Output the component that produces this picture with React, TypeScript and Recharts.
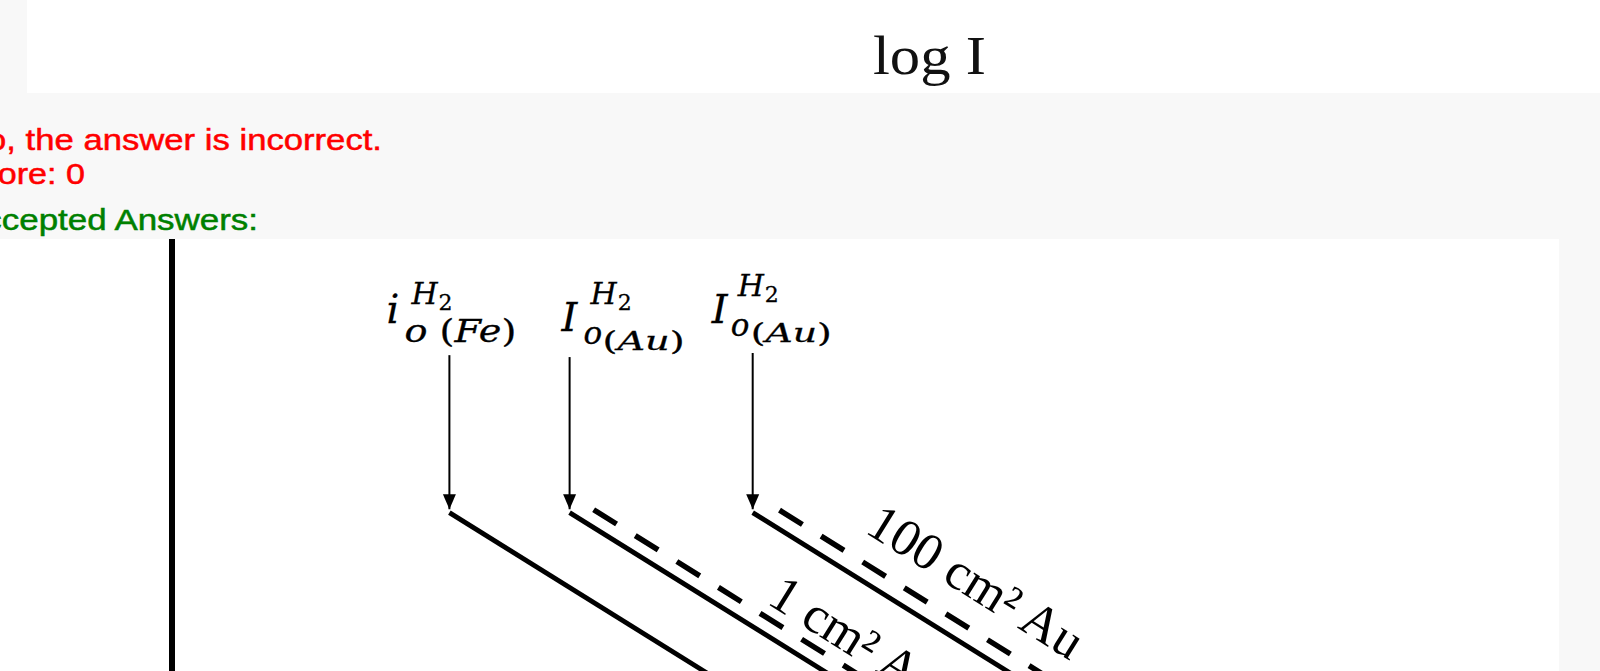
import { LineChart, Line, XAxis, YAxis, ReferenceDot } from "recharts";

// Tafel lines for H2 evolution, log I (decades) vs E (V)
const feLine = [
  { logI: -7.0, E: -0.57 },
  { logI: -4.0, E: -0.93 },
];
const au1Line = [
  { logI: -5.7, E: -0.57 },
  { logI: -2.7, E: -0.93 },
];
const au100Line = [
  { logI: -3.72, E: -0.57 },
  { logI: -0.72, E: -0.93 },
];
const au1Dashed = [
  { logI: -5.44, E: -0.564 },
  { logI: -2.44, E: -0.924 },
];
const au100Dashed = [
  { logI: -3.43, E: -0.565 },
  { logI: -0.43, E: -0.925 },
];

// exchange current markers
const ioLogI = [-7.0, -5.7, -3.72];
const ioArrowTop = [-0.242, -0.246, -0.2375];
const ioArrowTip = -0.563;
const ioMain = ["i", "I", "I"];
const ioSub = ["o (Fe)", "o", "o"];
const ioSubSub = ["", "(Au)", "(Au)"];

// area labels along the dashed lines
const areaText = ["1 cm² Au", "100 cm² Au"];
const areaLogI = [-3.58, -2.52];
const areaE = [-0.758, -0.61];

// label offsets from the top of each arrow (px)
const ioLabelPos = [
  { main: [-63, -32], sup: [-38, -51], sub: [-45, -13], subW: 112 },
  { main: [-8, -26], sup: [21, -53], sub: [14, -13], subSub: [33, -7], subSubW: 82 },
  { main: [-41, -30], sup: [-15, -57], sub: [-22, -17], subSub: [-2, -11], subSubW: 81 },
];

const MATH_FONT = "'DejaVu Serif', serif";

// letters italic, brackets/digits upright, like a math font
const mathSpans = (s: string) =>
  s.split("").map((ch, k) => (
    <tspan key={k} fontStyle={/[A-Za-z]/.test(ch) ? "italic" : "normal"}>
      {ch}
    </tspan>
  ));

const renderIoLabel = (cx: number, cy: number, i: number) => {
  const p: any = ioLabelPos[i];
  return (
    <g key={`io-label-${i}`} fontFamily={MATH_FONT} fill="#000" stroke="#000" strokeWidth={0.3}>
      <text x={cx + p.main[0]} y={cy + p.main[1]} fontSize={40} fontStyle="italic">
        {ioMain[i]}
      </text>
      <text x={cx + p.sup[0]} y={cy + p.sup[1]} fontSize={30}>
        <tspan fontStyle="italic">H</tspan>
        <tspan fontSize={22} dx={1} dy={6}>
          2
        </tspan>
      </text>
      <text
        x={cx + p.sub[0]}
        y={cy + p.sub[1]}
        fontSize={31}
        {...(p.subW ? { textLength: p.subW, lengthAdjust: "spacingAndGlyphs" } : {})}
      >
        {mathSpans(ioSub[i])}
      </text>
      {ioSubSub[i] && (
        <text
          x={cx + p.subSub[0]}
          y={cy + p.subSub[1]}
          fontSize={26}
          textLength={p.subSubW}
          lengthAdjust="spacingAndGlyphs"
        >
          {mathSpans(ioSubSub[i])}
        </text>
      )}
    </g>
  );
};

const arrowDot = (i: number) => (props: any) => {
  const { cx, cy, index } = props;
  if (index === 0) return renderIoLabel(cx, cy, i);
  return (
    <polygon
      key={`tip-${i}`}
      points={`${cx - 6.5},${cy - 15} ${cx + 6.5},${cy - 15} ${cx},${cy}`}
      fill="#000"
    />
  );
};

const areaLabel = (i: number) => (props: any) => {
  const { cx, cy } = props;
  return (
    <text
      x={cx}
      y={cy}
      transform={`rotate(32 ${cx} ${cy})`}
      fontFamily="'Liberation Serif', serif"
      fontSize={52}
      fill="#000"
    >
      {areaText[i]}
    </text>
  );
};

const solidLines = [feLine, au1Line, au100Line];
const dashedLines = [au1Dashed, au100Dashed];

export default function App() {
  return (
    <div
      style={{
        position: "fixed",
        left: 0,
        top: 0,
        width: 1600,
        height: 671,
        overflow: "hidden",
        background: "#f8f8f8",
      }}
    >
      <svg width={1600} height={239} style={{ position: "absolute", left: 0, top: 0 }}>
        <rect x={27} y={0} width={1573} height={93} fill="#fff" />
        <text
          x={873}
          y={74}
          fontFamily="'Liberation Serif', serif"
          fontSize={54}
          textLength={113}
          lengthAdjust="spacingAndGlyphs"
          fill="#111"
        >
          log I
        </text>
        <g fontFamily="'Liberation Sans', Arial, sans-serif" fontSize={30} strokeWidth={0.5}>
          <text x={-38} y={150} fill="#ff0000" stroke="#ff0000" textLength={420} lengthAdjust="spacingAndGlyphs">
            No, the answer is incorrect.
          </text>
          <text x={-42} y={184} fill="#ff0000" stroke="#ff0000" textLength={127} lengthAdjust="spacingAndGlyphs">
            Score: 0
          </text>
          <text x={-39} y={230} fill="#008000" stroke="#008000" textLength={297} lengthAdjust="spacingAndGlyphs">
            Accepted Answers:
          </text>
        </g>
      </svg>
      <div
        style={{
          position: "absolute",
          left: 0,
          top: 239,
          width: 1559,
          height: 432,
          background: "#fff",
        }}
      >
        <LineChart width={1559} height={432} margin={{ top: 0, right: 0, bottom: 0, left: 0 }}>
          <XAxis type="number" dataKey="logI" domain={[-10, 5]} allowDataOverflow hide />
          <YAxis
            type="number"
            domain={[-0.9, 0]}
            allowDataOverflow
            width={172}
            tick={false}
            tickLine={false}
            axisLine={{ stroke: "#000", strokeWidth: 6 }}
          />
          {solidLines.map((d, i) => (
            <Line
              key={`solid-${i}`}
              data={d}
              dataKey="E"
              stroke="#000"
              strokeWidth={4.8}
              dot={false}
              activeDot={false}
              isAnimationActive={false}
            />
          ))}
          {dashedLines.map((d, i) => (
            <Line
              key={`dash-${i}`}
              data={d}
              dataKey="E"
              stroke="#000"
              strokeWidth={5.5}
              strokeDasharray="27 22"
              dot={false}
              activeDot={false}
              isAnimationActive={false}
            />
          ))}
          {ioLogI.map((x, i) => (
            <Line
              key={`arrow-${i}`}
              data={[
                { logI: x, E: ioArrowTop[i] },
                { logI: x, E: ioArrowTip },
              ]}
              dataKey="E"
              stroke="#000"
              strokeWidth={2}
              dot={arrowDot(i)}
              activeDot={false}
              isAnimationActive={false}
            />
          ))}
          {areaText.map((_, i) => (
            <ReferenceDot
              key={`area-${i}`}
              x={areaLogI[i]}
              y={areaE[i]}
              r={0}
              ifOverflow="visible"
              shape={areaLabel(i)}
            />
          ))}
        </LineChart>
      </div>
    </div>
  );
}
